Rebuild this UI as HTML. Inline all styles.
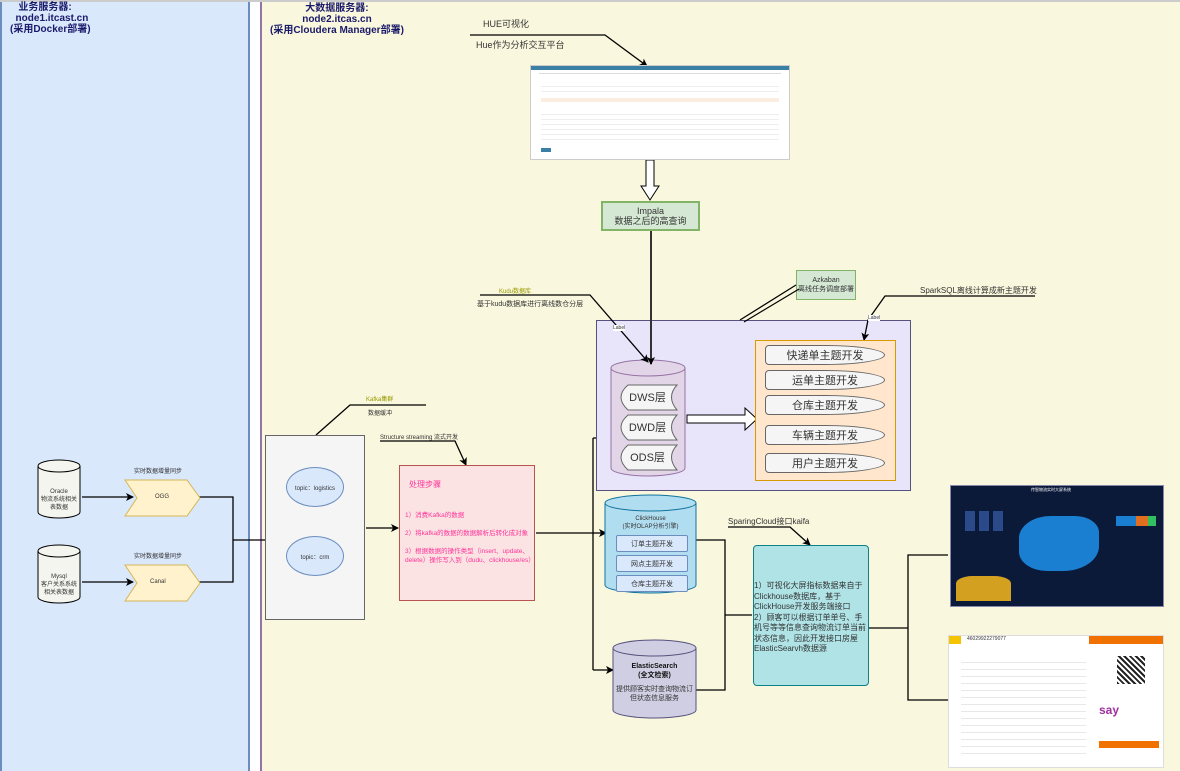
<!DOCTYPE html>
<html><head><meta charset="utf-8"><style>
body{margin:0;width:1180px;height:771px;position:relative;overflow:hidden;background:#fff;font-family:"Liberation Sans","Noto Sans CJK SC",sans-serif;}
.a{position:absolute;}
.t{position:absolute;white-space:nowrap;}
.c{display:flex;align-items:center;justify-content:center;text-align:center;}
.it{position:absolute;left:765px;width:120px;height:20px;background:#f5f5f5;border:1px solid #666;border-radius:4px 60px 60px 4px/4px 10px 10px 4px;font-size:11px;color:#333;box-sizing:border-box}
.ly{position:absolute;left:618px;width:59px;height:24px;font-size:11px;color:#333;}
.ci{position:absolute;left:616px;width:70px;height:15px;background:#dae8fc;border:1px solid #6c8ebf;border-radius:2px;font-size:7px;color:#333;}
</style></head><body>
<div class="a" style="left:0;top:0;width:250px;height:771px;background:#dae8fc;border-left:2px solid #6c8ebf;border-right:2px solid #6c8ebf;box-sizing:border-box"></div>
<div class="a" style="left:260px;top:0;width:920px;height:771px;background:#f9f7dd;border-left:2px solid #9673a6;box-sizing:border-box"></div>
<div class="a" style="left:0;top:0;width:1180px;height:2px;background:#ccc"></div>
<div class="t" style="left:10px;top:2px;font-size:10px;font-weight:bold;color:#1a1a6a;line-height:11px">&nbsp;&nbsp;&nbsp;业务服务器:<br>&nbsp;&nbsp;node1.itcast.cn<br>(采用Docker部署)</div>
<div class="t" style="left:270px;top:3px;font-size:10px;font-weight:bold;color:#1a1a6a;text-align:center;line-height:11px">大数据服务器:<br>node2.itcas.cn<br>(采用Cloudera Manager部署)</div>

<svg class="a" style="left:0;top:0" width="1180" height="771">
<defs><marker id="m" markerWidth="8" markerHeight="8" refX="7" refY="4" orient="auto" markerUnits="userSpaceOnUse"><path d="M0,0L8,4L0,8L2,4z" fill="#000"/></marker></defs>
<g stroke="#000" stroke-width="1.3" fill="none">
<path d="M82,497H133" marker-end="url(#m)"/><path d="M82,582H133" marker-end="url(#m)"/>
<path d="M199,497H233V582H199M233,540H265"/>
<path d="M316,435L350,405H426"/>
<path d="M366,528H398" marker-end="url(#m)"/>
<path d="M380,441H455L466,465" marker-end="url(#m)"/>
<path d="M536,533H593M593,438V670M593,438H610" marker-end="url(#m)"/>
<path d="M593,533H606" marker-end="url(#m)"/><path d="M593,670H613" marker-end="url(#m)"/>
<path d="M470,35H605L647,66" marker-end="url(#m)"/>
<path d="M696,540H725V690H696M725,615H752"/>
<path d="M728,527H790L810,545" marker-end="url(#m)"/>
<path d="M868,628H908V555H948M908,628V700H948"/>
</g>
<path d="M646,160V186H641L650,200L659,186H654V160Z" fill="#fff" stroke="#000"/>
<g stroke="#000" stroke-width="1">
<path d="M38,466V512A21,6 0 0 0 80,512V466" fill="#f5f5f0"/><ellipse cx="59" cy="466" rx="21" ry="6" fill="#f5f5f0"/>
<path d="M38,551V597A21,6 0 0 0 80,597V551" fill="#f5f5f0"/><ellipse cx="59" cy="551" rx="21" ry="6" fill="#f5f5f0"/>
</g>
<path d="M605,503V585A45.5,8 0 0 0 696,585V503" fill="#b1ddf0" stroke="#10739e"/><ellipse cx="650.5" cy="503" rx="45.5" ry="8" fill="#b1ddf0" stroke="#10739e"/>
<path d="M613,648V710A41.5,8 0 0 0 696,710V648" fill="#d0cee2" stroke="#56517e"/><ellipse cx="654.5" cy="648" rx="41.5" ry="8" fill="#d0cee2" stroke="#56517e"/>
<path d="M125,480H187L200,498L187,516H125L137,498Z" fill="#fff2cc" stroke="#d6b656"/>
<path d="M125,565H187L200,583L187,601H125L137,583Z" fill="#fff2cc" stroke="#d6b656"/>
</svg>

<div class="t c" style="left:38px;top:488px;width:42px;font-size:6px;color:#333;line-height:8px">Oracle<br>物流系统相关<br>表数据</div>
<div class="t c" style="left:38px;top:573px;width:42px;font-size:6px;color:#333;line-height:8px">Mysql<br>客户关系系统<br>相关表数据</div>
<div class="t" style="left:134px;top:466px;font-size:6px;color:#333">实时数据增量同步</div>
<div class="t" style="left:134px;top:551px;font-size:6px;color:#333">实时数据增量同步</div>
<div class="t" style="left:155px;top:494px;font-size:6px;color:#333">OGG</div>
<div class="t" style="left:150px;top:579px;font-size:6px;color:#333">Canal</div>

<div class="a" style="left:265px;top:435px;width:100px;height:185px;background:#f5f5f5;border:1px solid #666;box-sizing:border-box"></div>
<div class="a c" style="left:286px;top:467px;width:58px;height:40px;border-radius:50%;background:#dae8fc;border:1px solid #6c8ebf;box-sizing:border-box;font-size:6px;color:#333">topic：logistics</div>
<div class="a c" style="left:286px;top:536px;width:58px;height:40px;border-radius:50%;background:#dae8fc;border:1px solid #6c8ebf;box-sizing:border-box;font-size:6px;color:#333">topic：crm</div>
<div class="t" style="left:366px;top:394px;font-size:6px;color:#999900">Kafka集群</div>
<div class="t" style="left:368px;top:408px;font-size:6px;color:#333">数据缓冲</div>
<div class="t" style="left:380px;top:432px;font-size:6px;color:#333">Structure streaming 流式开发</div>

<div class="a" style="left:399px;top:465px;width:136px;height:136px;background:#fbe3e3;border:1px solid #b85450;box-sizing:border-box"></div>
<div class="t" style="left:409px;top:479px;font-size:8px;color:#ff3399">处理步骤</div>
<div class="t" style="left:405px;top:511px;font-size:6.5px;color:#ff3399;line-height:9px">1）消费Kafka的数据<br><br>2）将kafka的数据的数据解析后转化成对象<br><br>3）根据数据的操作类型（insert、update、<br>delete）操作写入到（dudu、clickhouse/es）</div>

<div class="a" style="left:530px;top:65px;width:260px;height:95px;background:#fff;border:1px solid #ccc;box-sizing:border-box">
<div style="height:4px;background:#3c7fa5"></div>
<div style="margin:3px 8px;height:1px;background:#ddd"></div>
<div style="margin:8px 10px 0;height:10px;background:repeating-linear-gradient(#fff 0 4px,#eee 4px 5px)"></div>
<div style="margin:6px 10px 0;height:4px;background:#fbeee0"></div>
<div style="margin:8px 10px 0;height:32px;background:repeating-linear-gradient(#fff 0 4px,#eee 4px 5px)"></div>
<div style="margin:6px 0 0 10px;width:10px;height:4px;background:#3c7fa5"></div></div>
<div class="t" style="left:483px;top:17px;font-size:9px;color:#333">HUE可视化</div>
<div class="t" style="left:476px;top:38px;font-size:9px;color:#333">Hue作为分析交互平台</div>
<div class="a c" style="left:601px;top:201px;width:99px;height:30px;background:#d5e8d4;border:2px solid #82b366;box-sizing:border-box;font-size:9px;color:#333;line-height:10px">Impala<br>数据之后的高查询</div>

<div class="a c" style="left:796px;top:270px;width:60px;height:30px;background:#d5e8d4;border:1px solid #82b366;box-sizing:border-box;font-size:7px;color:#333;line-height:9px">Azkaban<br>离线任务调度部署</div>
<div class="t" style="left:499px;top:286px;font-size:6px;color:#999900">Kudu数据库</div>
<div class="t" style="left:477px;top:299px;font-size:7px;color:#333">基于kudu数据库进行离线数仓分层</div>
<div class="t" style="left:920px;top:285px;font-size:8px;color:#333">SparkSQL离线计算成新主题开发</div>

<div class="a" style="left:596px;top:320px;width:315px;height:171px;background:#e8e5fb;border:1px solid #56517e;box-sizing:border-box"></div>
<svg class="a" style="left:0;top:0" width="1180" height="771">
<defs><marker id="m2" markerWidth="8" markerHeight="8" refX="7" refY="4" orient="auto" markerUnits="userSpaceOnUse"><path d="M0,0L8,4L0,8L2,4z" fill="#000"/></marker></defs>
<path d="M611,368V468A37,8 0 0 0 685,468V368" fill="#e1d5e7" stroke="#9673a6"/><ellipse cx="648" cy="368" rx="37" ry="8" fill="#e1d5e7" stroke="#9673a6"/>
<g fill="#f5f5f5" stroke="#666">
<path d="M628,385H677Q666,397 677,410H628Q614,397 628,385Z"/>
<path d="M628,415H677Q666,427 677,440H628Q614,427 628,415Z"/>
<path d="M628,445H677Q666,457 677,470H628Q614,457 628,445Z"/>
</g>
<g stroke="#000" stroke-width="1.3" fill="none">
<path d="M480,295H590L648,362" marker-end="url(#m2)"/>
<path d="M651,231V364" stroke="#333" stroke-width="2" marker-end="url(#m2)"/>
<path d="M1035,296H885L868,320L864,340" marker-end="url(#m2)"/>
</g>
<path d="M796,285L740,320M799,289L744,322" stroke="#000" stroke-width="1.2" fill="none"/>
<path d="M687,415H745V408L757,419L745,430V423H687Z" fill="#fff" stroke="#000"/>
</svg>
<div class="t" style="left:613px;top:325px;font-size:5px;color:#333;background:#fff">Label</div>
<div class="t" style="left:868px;top:315px;font-size:5px;color:#333;background:#fff">Label</div>
<div class="ly c" style="top:385px">DWS层</div>
<div class="ly c" style="top:415px">DWD层</div>
<div class="ly c" style="top:445px">ODS层</div>
<div class="a" style="left:755px;top:340px;width:141px;height:141px;background:#ffe6cc;border:1px solid #d79b00;box-sizing:border-box"></div>
<div class="it c" style="top:345px">快递单主题开发</div>
<div class="it c" style="top:370px">运单主题开发</div>
<div class="it c" style="top:395px">仓库主题开发</div>
<div class="it c" style="top:425px">车辆主题开发</div>
<div class="it c" style="top:453px">用户主题开发</div>

<div class="t c" style="left:605px;top:515px;width:91px;font-size:6px;color:#333;line-height:8px">ClickHouse<br>(实时OLAP分析引擎)</div>
<div class="ci c" style="top:535px">订单主题开发</div>
<div class="ci c" style="top:555px">网点主题开发</div>
<div class="ci c" style="top:575px">仓库主题开发</div>
<div class="t c" style="left:613px;top:662px;width:83px;font-size:7px;font-weight:bold;color:#111;line-height:9px">ElasticSearch<br>(全文检索)</div>
<div class="t c" style="left:613px;top:685px;width:83px;font-size:7px;color:#333;line-height:9px">提供顾客实时查询物流订<br>但状态信息服务</div>

<div class="t" style="left:728px;top:516px;font-size:8px;color:#333">SparingCloud接口kaifa</div>
<div class="a" style="left:753px;top:545px;width:116px;height:141px;background:#b0e3e6;border:1px solid #0e8088;border-radius:4px;box-sizing:border-box"></div>
<div class="t" style="left:754px;top:581px;font-size:8px;color:#333;line-height:10.5px">1）可视化大屏指标数据来自于<br>Clickhouse数据库，基于<br>ClickHouse开发服务端接口<br>2）顾客可以根据订单单号、手<br>机号等等信息查询物流订单当前<br>状态信息，因此开发接口房屋<br>ElasticSearvh数据源</div>

<div class="a" style="left:950px;top:485px;width:212px;height:120px;background:#0c1a3a;border:1px solid #88a">
<div class="a" style="left:68px;top:30px;width:80px;height:55px;background:#1a7fd0;border-radius:40% 30% 45% 35%"></div>
<div class="a" style="left:5px;top:90px;width:55px;height:25px;background:#d4a020;border-radius:30% 30% 0 0"></div>
<div class="a" style="left:10px;top:25px;width:45px;height:20px;background:repeating-linear-gradient(90deg,#0c1a3a 0 4px,#2a4a8a 4px 14px)"></div>
<div class="a" style="left:165px;top:30px;width:40px;height:10px;background:linear-gradient(90deg,#1a7fd0 50%,#e07020 50% 80%,#30c060 80%)"></div>
<div class="t" style="left:80px;top:1px;font-size:4px;color:#fff">传智物流实时大屏系统</div></div>
<div class="a" style="left:948px;top:635px;width:214px;height:131px;background:#fff;border:1px solid #ddd">
<div style="height:8px;background:linear-gradient(90deg,#f5c400 0 12px,#fff 12px 140px,#f07000 140px)"></div>
<div class="t" style="left:18px;top:0;font-size:5px;color:#333">46029922279077</div>
<div class="a" style="left:168px;top:20px;width:28px;height:28px;background:repeating-linear-gradient(45deg,#222 0 2px,#fff 2px 4px)"></div>
<div class="a" style="left:150px;top:67px;font-size:12px;font-weight:bold;color:#a030a0">say</div>
<div class="a" style="left:150px;top:105px;width:60px;height:7px;background:#f07000"></div>
<div class="a" style="left:12px;top:20px;width:125px;height:100px;background:repeating-linear-gradient(#fff 0 6px,#e8e8e8 6px 7px)"></div></div>
</body></html>
